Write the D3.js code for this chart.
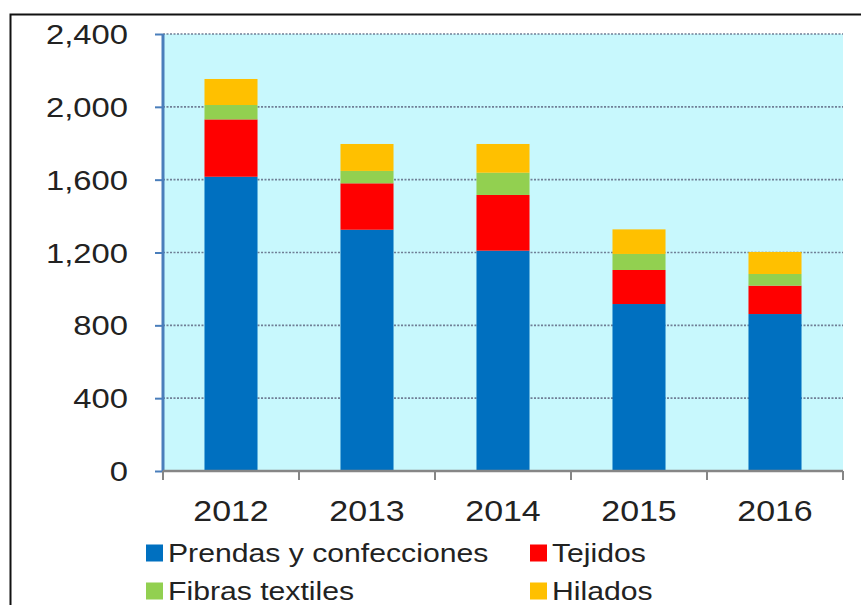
<!DOCTYPE html>
<html>
<head>
<meta charset="utf-8">
<script src="https://cdn.jsdelivr.net/npm/d3@7"></script>
<style>
html,body{margin:0;padding:0;background:#fff;}
svg{display:block;}
text{font-family:"Liberation Sans",Arial,sans-serif;fill:#222;}
</style>
</head>
<body>
<svg id="chart" width="861" height="605"></svg>
<script>
const years = ["2012","2013","2014","2015","2016"];
const seriesNames = ["Prendas y confecciones","Tejidos","Fibras textiles","Hilados"];
const prendas = [1616, 1325, 1210, 917, 862];
const tejidos = [315, 255, 306, 187, 156];
const fibras = [79, 68, 122, 88, 64];
const hilados = [143, 148, 158, 135, 121];
const yTicks = [0, 400, 800, 1200, 1600, 2000, 2400];
const colors = ["#0070c0", "#ff0000", "#92d050", "#ffc000"];

(function(){
const svg = d3.select("#chart");
const W = 861, H = 605;
const pL = 163, pR = 843, pT = 34, pB = 471;
const SX = 1.17;

// frame
svg.append("path").attr("d", `M10.5,${H} V14.5 H${W}`).attr("fill","none").attr("stroke","#111").attr("stroke-width",2);

const x = d3.scaleBand().domain(years).range([pL, pR]).paddingInner(0.61).paddingOuter(0.305);
const y = d3.scaleLinear().domain([0, 2400]).range([pB, pT]);

// plot bg
svg.append("rect").attr("x", pL).attr("y", pT).attr("width", pR - pL).attr("height", pB - pT).attr("fill", "#c8f8fd");

// gridlines
svg.append("g").selectAll("line").data(yTicks.filter(d => d > 0)).join("line")
  .attr("x1", pL).attr("x2", pR).attr("y1", d => y(d)).attr("y2", d => y(d))
  .attr("stroke", "#6f7f96").attr("stroke-width", 1.6).attr("stroke-dasharray", "2,1.5");

// stacked bars
const table = years.map((yr, i) => ({year: yr, s0: prendas[i], s1: tejidos[i], s2: fibras[i], s3: hilados[i]}));
const stack = d3.stack().keys(["s0","s1","s2","s3"])(table);
svg.append("g").selectAll("g").data(stack).join("g").attr("fill", (d, i) => colors[i])
  .selectAll("rect").data(d => d).join("rect")
  .attr("x", d => x(d.data.year)).attr("width", x.bandwidth())
  .attr("y", d => y(d[1])).attr("height", d => y(d[0]) - y(d[1]));

// y axis
const yAxis = svg.append("g").attr("transform", `translate(${pL},0)`)
  .call(d3.axisLeft(y).tickValues(yTicks).tickSize(8).tickFormat(""));
yAxis.select(".domain").attr("stroke", "#4a7ebb").attr("stroke-width", 3).attr("d", `M0,${pT}V${pB}`);
yAxis.selectAll(".tick line").attr("stroke", "#4a7ebb").attr("stroke-width", 2);

// y labels
svg.append("g").selectAll("g").data(yTicks).join("g")
  .attr("transform", d => `translate(128,${y(d)}) scale(${SX},1)`)
  .append("text").attr("text-anchor", "end").attr("dy", "0.36em").attr("font-size", 28).text(d => d3.format(",")(d));

// x axis
const xAxis = svg.append("g").attr("transform", `translate(0,${pB})`);
xAxis.append("line").attr("x1", pL).attr("x2", pR).attr("stroke", "#868686").attr("stroke-width", 2.5);
const bounds = years.map(d => x(d) - x.step() * x.paddingInner() / 2).concat([pR]);
xAxis.selectAll("line.tk").data(bounds).join("line").attr("class","tk")
  .attr("x1", d => d).attr("x2", d => d).attr("y1", 0).attr("y2", 9)
  .attr("stroke", "#868686").attr("stroke-width", 2);

svg.append("g").selectAll("g").data(years).join("g")
  .attr("transform", d => `translate(${x(d) + x.bandwidth()/2},521) scale(${SX},1)`)
  .append("text").attr("text-anchor", "middle").attr("font-size", 29).text(d => d);

// legend
const legPos = [[146, 553], [530, 553], [146, 591], [530, 591]];
const leg = svg.append("g").selectAll("g").data(seriesNames).join("g")
  .attr("transform", (d, i) => `translate(${legPos[i][0]},${legPos[i][1]})`);
leg.append("rect").attr("x", 0).attr("y", -8.5).attr("width", 17).attr("height", 17).attr("fill", (d, i) => colors[i]);
leg.append("g").attr("transform", `translate(22,0) scale(${SX},1)`)
  .append("text").attr("dy", "0.36em").attr("font-size", 25.8).text(d => d);
})();
</script>
</body>
</html>
